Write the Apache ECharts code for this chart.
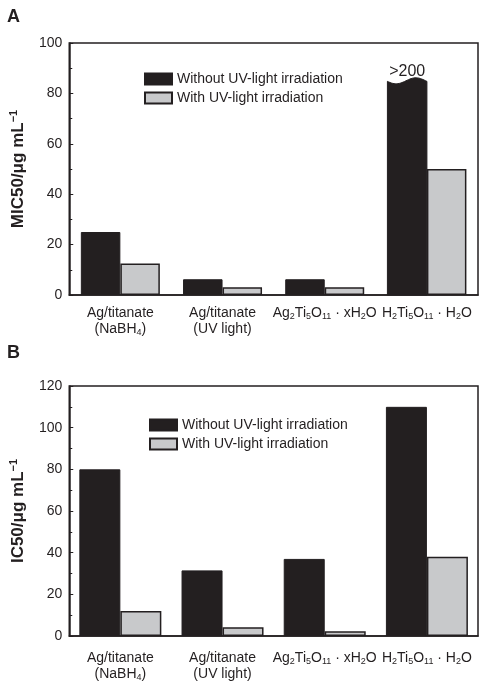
<!DOCTYPE html>
<html><head><meta charset="utf-8">
<script src="https://cdn.jsdelivr.net/npm/echarts@6/dist/echarts.min.js"></script>
<style>html,body{margin:0;padding:0;background:#fff}#c{width:486px;height:690px}</style>
</head><body><div id="c"></div>
<script>
// ---- data ----
const categories = ['Ag/titanate\n(NaBH_4)', 'Ag/titanate\n(UV light)', 'Ag_2Ti_5O_11 · xH_2O', 'H_2Ti_5O_11 · H_2O'];
const seriesNames = ['Without UV-light irradiation', 'With UV-light irradiation'];
// Panel A: MIC50 / µg mL-1
const micWithout = [25, 6.25, 6.25, null];   // last value is >200, drawn as a broken bar
const micWith = [12.5, 3.125, 3.125, 50];
const micBrokenIndex = 3;
const micBrokenShown = 85;                   // height at which the >200 bar is cut
const micBrokenLabel = '>200';
const micAxis = {min: 0, max: 100, interval: 20};
// Panel B: IC50 / µg mL-1
const icWithout = [80, 31.5, 37, 110];
const icWith = [12, 4.2, 2.3, 38];
const icAxis = {min: 0, max: 120, interval: 20};

// ---- style ----
const INK = '#231f20', GRAY = '#c8c9cb';
const FONT = '"Liberation Sans", Arial, Helvetica, sans-serif';
const bwA = 39.5, bwB = 41;

function richLabel(s) {
  return s.split('\n').map(line => line.split(/_(\d+)/).map((p, i) =>
    p === '' ? '' : (i % 2 ? '{s|' + p + '}' : '{n|' + p + '}')).join('')).join('\n');
}
const labelRich = {
  n: {fontSize: 14, lineHeight: 16, color: INK, fontFamily: FONT},
  s: {fontSize: 9, lineHeight: 9, padding: [8, 0, 0, 0], color: INK, fontFamily: FONT}
};
const nameRich = {
  a: {fontSize: 17, fontWeight: 'bold', lineHeight: 20, color: INK, fontFamily: FONT},
  b: {fontSize: 11, fontWeight: 'bold', lineHeight: 11, padding: [0, 0, 9, 0], color: INK, fontFamily: FONT}
};

function xAxis(gi, margin) {
  return {
    type: 'category', gridIndex: gi, data: categories,
    axisLine: {lineStyle: {color: INK, width: 1.5}},
    axisTick: {show: false},
    axisLabel: {interval: 0, margin: margin, formatter: richLabel, rich: labelRich}
  };
}
function yAxis(gi, ax, name) {
  return {
    type: 'value', gridIndex: gi, min: ax.min, max: ax.max, interval: ax.interval,
    name: name, nameLocation: 'middle', nameGap: 35, nameRotate: 90,
    nameTextStyle: {rich: nameRich},
    axisLine: {show: true, lineStyle: {color: INK, width: 1.5}},
    axisTick: {show: true, inside: true, length: 4, lineStyle: {color: INK, width: 1}},
    minorTick: {show: true, splitNumber: 2, length: 3, lineStyle: {color: INK, width: 1}},
    splitLine: {show: false},
    axisLabel: {color: INK, fontSize: 14, fontFamily: FONT, margin: 7}
  };
}
function legend(gi, left, top) {
  return {
    orient: 'vertical', left: left, top: top, itemWidth: 27, itemHeight: 11, itemGap: 5, itemTextGap: 5,
    icon: 'rect', data: seriesNames, selectedMode: false,
    textStyle: {color: INK, fontSize: 14, fontFamily: FONT}
  };
}
const styleBlack = {color: INK, borderColor: INK, borderWidth: 1};
const styleGray = {color: GRAY, borderColor: INK, borderWidth: 1.5};

const chart = echarts.init(document.getElementById('c'), null, {renderer: 'canvas'});
chart.setOption({
  animation: false,
  backgroundColor: '#fff',
  textStyle: {fontFamily: FONT},
  grid: [
    {left: 65, right: 8, top: 43, bottom: 395, show: true, borderColor: INK, borderWidth: 1.5, containLabel: false},
    {left: 65, right: 8, top: 386, bottom: 54, show: true, borderColor: INK, borderWidth: 1.5, containLabel: false}
  ],
  xAxis: [xAxis(0, 10), xAxis(1, 14)],
  yAxis: [yAxis(0, micAxis, '{a|MIC50/μg mL}{b|−1}'), yAxis(1, icAxis, '{a|IC50/μg mL}{b|−1}')],
  legend: [legend(0, 139, 67), legend(1, 144, 413)],
  graphic: [
    {type: 'text', left: 7, top: 8, style: {text: 'A', font: 'bold 18px ' + FONT, fill: INK}},
    {type: 'text', left: 7, top: 344, style: {text: 'B', font: 'bold 18px ' + FONT, fill: INK}}
  ],
  series: [
    {name: seriesNames[0], type: 'bar', xAxisIndex: 0, yAxisIndex: 0, barWidth: bwA, barGap: '0%',
     data: micWithout.map(v => v == null ? '-' : v), itemStyle: styleBlack},
    {name: seriesNames[1], type: 'bar', xAxisIndex: 0, yAxisIndex: 0, barWidth: bwA, barGap: '0%',
     data: micWith, itemStyle: styleGray},
    {type: 'custom', xAxisIndex: 0, yAxisIndex: 0, data: [[micBrokenIndex, micBrokenShown]],
     encode: {x: 0, y: 1},
     renderItem: function (params, api) {
       const idx = api.value(0), v = api.value(1);
       const base = api.coord([idx, 0]);
       const top = api.coord([idx, v]);
       const x0 = base[0] - bwA;
       const pts = [[x0, base[1]]];
       const N = 30;
       for (let i = 0; i <= N; i++) {
         const t = i / N;
         pts.push([x0 + t * bwA, top[1] + 3 * Math.cos(2 * Math.PI * (t - 0.22) / 1.0)]);
       }
       pts.push([base[0], base[1]]);
       return {type: 'group', children: [
         {type: 'polygon', shape: {points: pts}, style: {fill: INK, stroke: INK, lineWidth: 1}},
         {type: 'text', style: {text: micBrokenLabel, x: x0 + bwA / 2, y: top[1] - 1, align: 'center',
           verticalAlign: 'bottom', font: '16px ' + FONT, fill: INK}}
       ]};
     }},
    {name: seriesNames[0], type: 'bar', xAxisIndex: 1, yAxisIndex: 1, barWidth: bwB, barGap: '0%',
     data: icWithout, itemStyle: styleBlack},
    {name: seriesNames[1], type: 'bar', xAxisIndex: 1, yAxisIndex: 1, barWidth: bwB, barGap: '0%',
     data: icWith, itemStyle: styleGray}
  ]
});
</script></body></html>
